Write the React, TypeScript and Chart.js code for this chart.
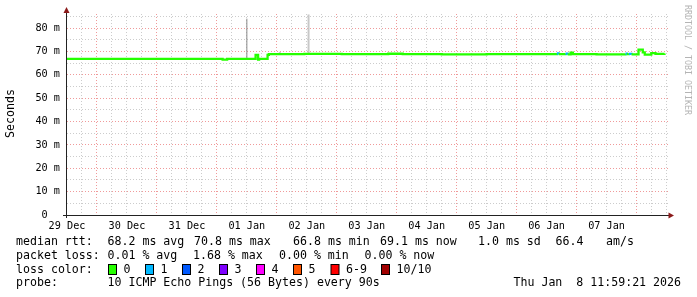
import { useEffect, useRef } from "react";
import { Chart, registerables } from "chart.js";

Chart.register(...registerables);

// ---- data ----
const dayLabels = ["29 Dec", "30 Dec", "31 Dec", "01 Jan", "02 Jan", "03 Jan", "04 Jan", "05 Jan", "06 Jan", "07 Jan"];
// hours since 29 Dec 12:00
const rttHours = [0, 20, 45, 62.3, 64.1, 75.5, 76.5, 76.9, 80.3, 80.8, 95, 110, 128.6, 134.4, 150, 168, 180, 196.1, 196.8, 199.6, 200.4, 201.6, 202.5, 212, 223.6, 224.1, 224.9, 226, 228.8, 230.5, 231.3, 233.9, 235.6, 239.2];
// median rtt in ms
const rttMedian = [66.8, 66.8, 66.8, 66.5, 66.8, 68.5, 66.5, 66.8, 68.5, 68.8, 68.9, 68.8, 69.0, 68.8, 68.7, 68.8, 68.8, 69.1, 68.8, 69.0, 68.7, 69.5, 68.8, 68.7, 69.0, 68.8, 68.9, 68.7, 70.8, 69.6, 68.6, 69.3, 68.9, 69.1];
// lost pings (of 10) per segment
const rttLoss = [0, 0, 0, 0, 0, 0, 0, 0, 0, 0, 0, 0, 0, 0, 0, 0, 0, 1, 0, 1, 0, 0, 0, 0, 1, 0, 1, 0, 0, 0, 0, 0, 0, 0];
// smoke spikes
const smokeHours = [72.0, 96.7, 85.2];
const smokeLow = [66.8, 68.8, 68.8];
const smokeHigh = [84.0, 85.8, 69.8];
const smokeShade = [0, 1, 1];

const yTickValues = [0, 10, 20, 30, 40, 50, 60, 70, 80];

const legendRtt = ["median rtt:", "68.2 ms avg", "70.8 ms max", "66.8 ms min", "69.1 ms now", "1.0 ms sd", "66.4", "am/s"];
const legendLoss = ["packet loss:", "0.01 % avg", "1.68 % max", "0.00 % min", "0.00 % now"];
const lossLabels = ["0", "1", "2", "3", "4", "5", "6-9", "10/10"];
const probeText = ["probe:", "10 ICMP Echo Pings (56 Bytes) every 90s", "Thu Jan  8 11:59:21 2026"];

// ---- styles ----
const LOSS_COLORS = ["#26ff00", "#00b8ff", "#0059ff", "#7e00ff", "#ff00ff", "#ff5500", "#ff0000", "#a10000"];
const SMOKE_STYLES = [
  { color: "#8a8a8a", width: 1 },
  { color: "#c8c8c8", width: 2 },
];
const RED_GRID = "#f09a9a";
const GREY_GRID = "#cccccc";
const MONO = '"DejaVu Sans Mono", monospace';

function lossColor(n: number) {
  if (n <= 5) return LOSS_COLORS[n];
  if (n < 10) return LOSS_COLORS[6];
  return LOSS_COLORS[7];
}

const decorPlugin = {
  id: "decor",
  afterDraw(chart: any) {
    const ctx = chart.ctx as CanvasRenderingContext2D;
    const area = chart.chartArea;
    ctx.save();
    // axes
    ctx.strokeStyle = "#222";
    ctx.lineWidth = 1;
    ctx.beginPath();
    ctx.moveTo(66.5, 218);
    ctx.lineTo(66.5, 11);
    ctx.stroke();
    ctx.beginPath();
    ctx.moveTo(63, 215.5);
    ctx.lineTo(area.right, 215.5);
    ctx.stroke();
    ctx.fillStyle = "#8b1a1a";
    ctx.beginPath();
    ctx.moveTo(66.5, 7);
    ctx.lineTo(63.5, 13);
    ctx.lineTo(69.5, 13);
    ctx.closePath();
    ctx.fill();
    ctx.beginPath();
    ctx.moveTo(674, 215.5);
    ctx.lineTo(668.5, 212.5);
    ctx.lineTo(668.5, 218.5);
    ctx.closePath();
    ctx.fill();

    // y title
    ctx.fillStyle = "#000";
    ctx.font = `11.6px ${MONO}`;
    ctx.textAlign = "center";
    ctx.textBaseline = "middle";
    ctx.save();
    ctx.translate(11, 113.5);
    ctx.rotate(-Math.PI / 2);
    ctx.fillText("Seconds", 0, 0);
    ctx.restore();

    // watermark
    ctx.save();
    ctx.fillStyle = "#b4b4b4";
    ctx.font = `8.3px ${MONO}`;
    ctx.translate(687.5, 60);
    ctx.rotate(Math.PI / 2);
    ctx.fillText("RRDTOOL / TOBI OETIKER", 0, 0);
    ctx.restore();

    // legend
    ctx.fillStyle = "#000";
    ctx.font = `11.6px ${MONO}`;
    ctx.textAlign = "left";
    ctx.textBaseline = "middle";
    const rttX = [16, 107.5, 194, 293, 380, 478, 555.5, 606];
    legendRtt.forEach((t, i) => ctx.fillText(t, rttX[i], 241.5));
    const lossX = [16, 107.5, 193, 279, 364.5];
    legendLoss.forEach((t, i) => ctx.fillText(t, lossX[i], 255.5));
    ctx.fillText("loss color:", 16, 269.5);
    const boxX = [108.5, 145.5, 182.5, 219.5, 256.5, 293.5, 331, 381.5];
    lossLabels.forEach((t, i) => {
      ctx.fillStyle = LOSS_COLORS[i];
      ctx.fillRect(boxX[i], 264.5, 8, 10);
      ctx.strokeStyle = "#000";
      ctx.lineWidth = 1;
      ctx.strokeRect(boxX[i], 264.5, 8, 10);
      ctx.fillStyle = "#000";
      ctx.fillText(t, boxX[i] + 15, 269.5);
    });
    ctx.fillText(probeText[0], 16, 283);
    ctx.fillText(probeText[1], 107.5, 283);
    ctx.textAlign = "right";
    ctx.fillText(probeText[2], 681, 283);
    ctx.restore();
  },
};

export default function App() {
  const ref = useRef<HTMLCanvasElement | null>(null);
  useEffect(() => {
    document.body.style.margin = "0";
    const canvas = ref.current!;
    const rttData = rttHours.map((h, i) => ({ x: h, y: rttMedian[i] }));
    const smokeSets = smokeHours.map((h, i) => ({
      type: "line" as const,
      data: [
        { x: h, y: smokeLow[i] },
        { x: h, y: smokeHigh[i] },
      ],
      borderColor: SMOKE_STYLES[smokeShade[i]].color,
      borderWidth: SMOKE_STYLES[smokeShade[i]].width,
      pointRadius: 0,
      fill: false,
    }));
    const chart = new Chart(canvas, {
      type: "line",
      data: {
        datasets: [
          {
            data: rttData,
            borderColor: LOSS_COLORS[0],
            borderWidth: 2.3,
            pointRadius: 0,
            stepped: true,
            fill: false,
            segment: {
              borderColor: (c: any) => lossColor(rttLoss[c.p0DataIndex]),
            },
          } as any,
          ...smokeSets,
        ],
      },
      options: {
        responsive: false,
        animation: false,
        events: [],
        layout: { padding: { top: 14, right: 28, left: 0, bottom: 0 } },
        plugins: { legend: { display: false }, tooltip: { enabled: false }, title: { display: false } },
        scales: {
          x: {
            type: "linear",
            min: 0,
            max: 241,
            afterFit: (s: any) => {
              s.height = 82;
            },
            border: { display: false, dash: [1, 2] },
            grid: {
              drawTicks: false,
              color: (c: any) => {
                const v = c.tick.value;
                if (v === 0) return "rgba(0,0,0,0)";
                return (v - 12) % 24 === 0 ? RED_GRID : GREY_GRID;
              },
            },
            ticks: {
              stepSize: 6,
              includeBounds: false,
              autoSkip: false,
              maxRotation: 0,
              minRotation: 0,
              padding: 5,
              color: "#000",
              font: { family: MONO, size: 10.2 },
              callback: (v: any) => {
                const n = Number(v);
                if (n % 24 !== 0) return "";
                return dayLabels[n / 24] ?? "";
              },
            },
          },
          y: {
            type: "linear",
            min: 0,
            max: 86,
            afterFit: (s: any) => {
              s.width = 67;
            },
            border: { display: false, dash: [1, 2] },
            grid: {
              drawTicks: false,
              color: (c: any) => {
                const v = c.tick.value;
                if (v === 0) return "rgba(0,0,0,0)";
                return v % 10 === 0 ? RED_GRID : GREY_GRID;
              },
            },
            ticks: {
              stepSize: 5,
              includeBounds: false,
              autoSkip: false,
              padding: 7,
              color: "#000",
              font: { family: MONO, size: 10.2 },
              callback: (v: any) => {
                const n = Number(v);
                if (!yTickValues.includes(n)) return "";
                return n === 0 ? "0  " : `${n} m`;
              },
            },
          },
        },
      },
      plugins: [decorPlugin],
    } as any);
    return () => chart.destroy();
  }, []);
  return <canvas ref={ref} width={697} height={297} style={{ display: "block" }} />;
}
